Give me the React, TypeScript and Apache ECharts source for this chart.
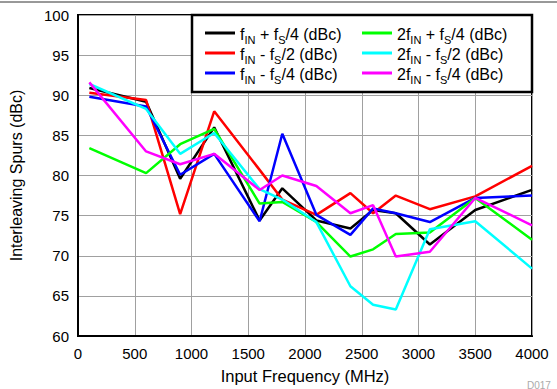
import React, { useEffect, useRef } from "react";
import * as echarts from "echarts";

const freqs = [100, 600, 900, 1200, 1600, 1800, 2100, 2400, 2600, 2800, 3100, 3500, 4000];
const blackVals = [90.9, 89.2, 79.6, 86.0, 74.4, 78.4, 74.4, 73.4, 75.7, 75.3, 71.4, 75.7, 78.2];
const redVals = [90.3, 89.4, 75.2, 88.0, 80.7, 77.0, 75.1, 77.8, 75.3, 77.5, 75.8, 77.4, 81.2];
const blueVals = [89.8, 88.6, 80.1, 82.7, 74.3, 85.2, 75.1, 72.6, 75.9, 75.3, 74.2, 77.2, 77.5];
const greenVals = [83.4, 80.3, 83.9, 85.8, 76.5, 76.7, 74.2, 69.9, 70.8, 72.7, 72.9, 77.2, 72.0];
const cyanVals = [91.4, 88.3, 82.7, 85.3, 78.3, 77.0, 74.2, 66.2, 63.9, 63.3, 73.3, 74.3, 68.4];
const magentaVals = [91.6, 83.0, 81.4, 82.7, 78.2, 80.0, 78.7, 75.3, 76.3, 69.9, 70.5, 77.2, 73.8];

const seriesNames = [
  "fIN + fS/4 (dBc)",
  "fIN - fS/2 (dBc)",
  "fIN - fS/4 (dBc)",
  "2fIN + fS/4 (dBc)",
  "2fIN - fS/2 (dBc)",
  "2fIN - fS/4 (dBc)",
];
const seriesColors = ["#000000", "#ff0000", "#0000ff", "#00ff00", "#00ffff", "#ff00ff"];
const seriesValues = [blackVals, redVals, blueVals, greenVals, cyanVals, magentaVals];

const FONT = "Liberation Sans, Arial, sans-serif";

function legendFormatter(name: string): string {
  const m = name.match(/^(2?f)IN ([+-]) fS(\/\d \(dBc\))$/);
  if (!m) return name;
  return `{a|${m[1]}}{s|IN}{a| ${m[2]} f}{s|S}{a|${m[3]}}`;
}

const legendRich = {
  a: { fontSize: 16, fontFamily: FONT, color: "#000", lineHeight: 18, verticalAlign: "bottom" as const },
  s: { fontSize: 11, fontFamily: FONT, color: "#000", lineHeight: 18, verticalAlign: "bottom" as const, padding: [0, 0, -3, 0] },
};

export default function App() {
  const ref = useRef<HTMLDivElement>(null);
  useEffect(() => {
    if (!ref.current) return;
    const chart = echarts.init(ref.current, undefined, { renderer: "svg" });
    const legendCommon = {
      orient: "vertical" as const,
      top: 26,
      itemWidth: 30,
      itemHeight: 3,
      itemGap: 1,
      itemTextGap: 9,
      icon: "rect",
      z: 20,
      formatter: legendFormatter,
      textStyle: { rich: legendRich, fontFamily: FONT, fontSize: 16 },
      padding: 0,
    };
    chart.setOption({
      animation: false,
      backgroundColor: "#ffffff",
      textStyle: { fontFamily: FONT },
      grid: {
        left: 73,
        right: 25,
        top: 15,
        bottom: 47,
        show: true,
        borderColor: "#000",
        borderWidth: 2,
        containLabel: false,
      },
      legend: [
        { ...legendCommon, left: 205, data: seriesNames.slice(0, 3) },
        { ...legendCommon, left: 362, data: seriesNames.slice(3, 6) },
      ],
      xAxis: {
        type: "value",
        min: 0,
        max: 4000,
        interval: 500,
        name: "Input Frequency (MHz)",
        nameLocation: "middle",
        nameGap: 31,
        nameTextStyle: { fontSize: 16.5, fontFamily: FONT, color: "#000" },
        axisLine: { show: true, lineStyle: { color: "#000", width: 2 } },
        axisTick: { show: false },
        axisLabel: {
          fontSize: 15,
          fontFamily: FONT,
          color: "#000",
          margin: 10,
          formatter: (v: number) => String(v),
        },
        splitLine: { show: true, lineStyle: { color: "#a0a0a0", width: 1 } },
      },
      yAxis: {
        type: "value",
        min: 60,
        max: 100,
        interval: 5,
        name: "Interleaving Spurs (dBc)",
        nameLocation: "middle",
        nameGap: 54,
        nameTextStyle: { fontSize: 16, fontFamily: FONT, color: "#000" },
        axisLine: { show: true, lineStyle: { color: "#000", width: 2 } },
        axisTick: { show: false },
        axisLabel: { fontSize: 15, fontFamily: FONT, color: "#000", margin: 9 },
        splitLine: { show: true, lineStyle: { color: "#a0a0a0", width: 1 } },
      },
      graphic: {
        elements: [
          {
            type: "rect",
            z: 10,
            shape: { x: 192, y: 15, width: 340, height: 77 },
            style: { fill: "#ffffff", stroke: "#000", lineWidth: 2.5 },
          },
          {
            type: "line",
            z: 10,
            shape: { x1: 0, y1: 2, x2: 557, y2: 2 },
            style: { stroke: "#333", lineWidth: 1 },
          },
          {
            type: "text",
            z: 10,
            x: 527,
            y: 380,
            style: { text: "D017", fontSize: 10, fontFamily: FONT, fill: "#aaaaaa" },
          },
        ],
      },
      series: seriesNames.map((name, i) => ({
        name,
        type: "line",
        data: freqs.map((f, j) => [f, seriesValues[i][j]]),
        showSymbol: false,
        symbol: "none",
        color: seriesColors[i],
        lineStyle: { color: seriesColors[i], width: 2.5 },
        z: 2,
      })),
    });
    return () => chart.dispose();
  }, []);
  return (
    <div
      ref={ref}
      style={{ position: "absolute", left: 0, top: 0, width: 557, height: 389 }}
    />
  );
}
